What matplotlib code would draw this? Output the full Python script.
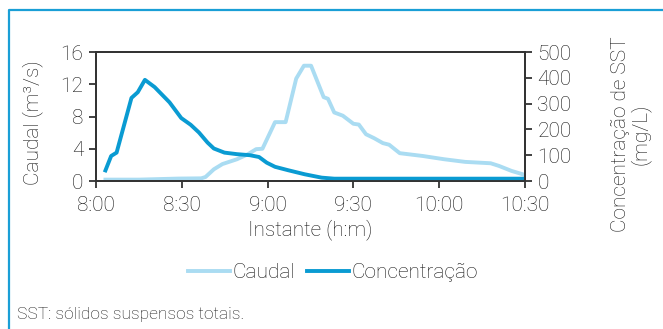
import matplotlib.pyplot as plt
from matplotlib.lines import Line2D

# minutes after 8:00
caudal_t = [3.3, 15, 28.7, 36.8, 38.3, 41.2, 44.2, 49.3, 53, 56, 58.2, 62.6, 66.3,
            70, 72.7, 75.2, 79.6, 81.1, 83.3, 86.3, 90, 91.9, 94.4, 97.3, 100.3,
            102.5, 106.2, 114.3, 121.7, 129.1, 138, 140.9, 145.3, 150]
caudal = [0.17, 0.17, 0.3, 0.33, 0.5, 1.45, 2.1, 2.7, 3.3, 3.95, 4.0, 7.3, 7.3,
          12.7, 14.3, 14.3, 10.4, 10.2, 8.5, 8.1, 7.1, 7.0, 5.8, 5.3, 4.7,
          4.5, 3.45, 3.1, 2.7, 2.37, 2.2, 1.87, 1.25, 0.75]

conc_t = [3.3, 5.3, 7.2, 12.4, 14.6, 17.1, 20.5, 25.7, 29.8, 33.1, 36.0, 39.0,
          41.2, 44.9, 49.3, 53.8, 57.0, 59.7, 62.6, 67.1, 73.0, 78.9, 83.3, 150]
conc = [41, 97, 110, 322, 344, 392, 364, 305, 244, 218, 188, 149,
        126, 110, 104, 100, 93, 71, 55, 42, 26, 13, 9, 9]

time_ticks = [0, 30, 60, 90, 120, 150]
time_labels = ['8:00', '8:30', '9:00', '9:30', '10:00', '10:30']

text_color = '#151515'
light_blue = '#aadcf2'
dark_blue = '#0a9bd2'
fs = 15

plt.rcParams['font.family'] = ['Roboto', 'DejaVu Sans']
plt.rcParams['font.weight'] = 'light'
plt.rcParams['axes.labelweight'] = 'light'
plt.rcParams['text.color'] = text_color

fig = plt.figure(figsize=(6.63, 3.29), dpi=100)
ax = fig.add_axes([96 / 663, 1 - 181 / 329, 429 / 663, 129 / 329])
ax2 = ax.twinx()

ax.plot(caudal_t, caudal, color=light_blue, lw=2.8, solid_joinstyle='round')
ax2.plot(conc_t, conc, color=dark_blue, lw=2.8, solid_joinstyle='round')

ax.set_xlim(0, 150)
ax.set_ylim(0, 16)
ax2.set_ylim(0, 500)
ax.set_xticks(time_ticks)
ax.set_xticklabels(time_labels)
ax.set_yticks([0, 4, 8, 12, 16])
ax2.set_yticks([0, 100, 200, 300, 400, 500])

for a in (ax, ax2):
    for s in a.spines.values():
        s.set_color('#333333')
        s.set_linewidth(1.3)
    a.tick_params(colors='#333333', labelcolor=text_color, labelsize=fs,
                  length=5, width=1.3, pad=4)
ax.tick_params(axis='x', pad=6)

ax.set_xlabel('Instante (h:m)', fontsize=fs, color=text_color, labelpad=3)
fig.text(33 / 663, 1 - 123 / 329, 'Caudal (m³/s)', rotation=90, fontsize=fs,
         ha='center', va='center')
fig.text(631 / 663, 1 - 134 / 329, 'Concentração de SST\n(mg/L)', rotation=90,
         fontsize=fs, ha='center', va='center', multialignment='center',
         linespacing=0.95)

handles = [Line2D([], [], color=light_blue, lw=2.8),
           Line2D([], [], color=dark_blue, lw=2.8)]
fig.legend(handles, ['Caudal', 'Concentração'], loc='center',
           bbox_to_anchor=(333 / 663, 1 - 273 / 329), ncol=2, frameon=False,
           fontsize=fs, handlelength=2.0, handletextpad=0.1, columnspacing=0.6)

fig.text(17 / 663, 1 - 315 / 329, 'SST: sólidos suspensos totais.', fontsize=12.5,
         ha='left', va='center')

# frame line on the top and left edges
fig.add_artist(Line2D([9 / 663, 9 / 663, 1], [0, 1 - 9.5 / 329, 1 - 9.5 / 329],
                      color='#1a9fd6', lw=1.6))

fig.savefig('out.png', dpi=100)
